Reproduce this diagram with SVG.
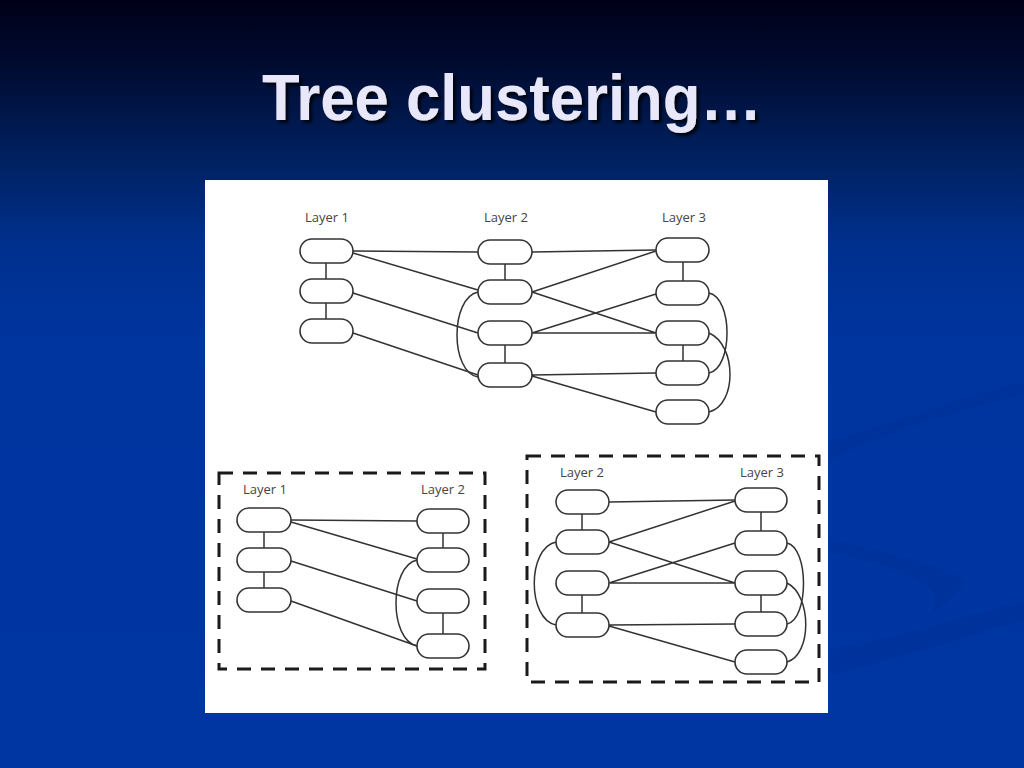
<svg xmlns="http://www.w3.org/2000/svg" width="1024" height="768" viewBox="0 0 1024 768">
<defs>
<linearGradient id="bg" x1="0" y1="0" x2="0" y2="1">
<stop offset="0" stop-color="#000018"/>
<stop offset="0.08" stop-color="#000a2e"/>
<stop offset="0.2" stop-color="#00205e"/>
<stop offset="0.32" stop-color="#00308e"/>
<stop offset="0.45" stop-color="#0035a0"/>
<stop offset="1" stop-color="#0036a2"/>
</linearGradient>
<filter id="sh" x="-5%" y="-20%" width="110%" height="140%">
<feDropShadow dx="3" dy="3" stdDeviation="1.5" flood-color="#000000" flood-opacity="0.8"/>
</filter>
<style>
.n{fill:#ffffff;stroke:#333333;stroke-width:1.6}
.e{fill:none;stroke:#333333;stroke-width:1.5}
.lbl{font-family:"Open Sans","DejaVu Sans",sans-serif;font-size:13px;fill:#444444;text-anchor:middle}
.box{fill:none;stroke:#1a1a1a;stroke-width:3;stroke-dasharray:14 10}
</style>
</defs>
<rect width="1024" height="768" fill="url(#bg)"/>
<path d="M830 440 C900 420 970 395 1024 380 L1024 395 C960 410 890 430 830 460 Z" fill="#00309a" opacity="0.6"/>
<path d="M830 540 C890 550 950 570 965 580 C955 600 930 615 930 615 C945 595 930 580 880 565 C860 560 840 555 830 552 Z" fill="#00309a" opacity="0.6"/>
<path d="M830 650 C900 635 970 615 1024 600 L1024 620 C960 640 890 660 830 675 Z" fill="#00309a" opacity="0.6"/>
<text x="512" y="120" font-family="'Liberation Sans',Arial,sans-serif" font-weight="bold" font-size="65" textLength="500" lengthAdjust="spacingAndGlyphs" fill="#e8e8fa" text-anchor="middle" filter="url(#sh)">Tree clustering…</text>
<rect x="205" y="180" width="623" height="533" fill="#ffffff"/>

<g id="connectors">
<!-- top graph -->
<path class="e" d="M326 263V279M326 303V319M505 264V280M505 345V363M683 262V281M683 345V361"/>
<path class="e" d="M353 251L478 252M353 253L478 290M353 293L478 333M353 333L478 375"/>
<path class="e" d="M532 252L656 250M532 292L656 251M532 292L656 333M532 333L656 294M532 333L656 333M532 375L656 373M532 376L656 412"/>
<path class="e" d="M478 292C450 298 450 372 478 377"/>
<path class="e" d="M709 293C733 298 733 368 709 373"/>
<path class="e" d="M709 333C737 345 737 405 709 412"/>
<!-- bottom left -->
<path class="e" d="M264 532V548M264 572V588M443 533V548M443 613V634"/>
<path class="e" d="M291 520L417 521M291 522L417 559M291 561L417 601M291 601L417 646"/>
<path class="e" d="M417 560C389 566 389 640 417 646"/>
<!-- bottom right -->
<path class="e" d="M582 514V530M582 595V613M761 512V531M761 595V612"/>
<path class="e" d="M609 502L735 500M609 542L735 501M609 542L735 583M609 583L735 543M609 583L735 583M609 625L735 624M609 626L735 662"/>
<path class="e" d="M556 542C527 548 527 619 556 625"/>
<path class="e" d="M787 543C809 548 809 619 787 624"/>
<path class="e" d="M787 583C812 595 812 655 787 662"/>
</g>

<g id="top-graph">
<text class="lbl" x="327" y="222">Layer 1</text>
<text class="lbl" x="506" y="222">Layer 2</text>
<text class="lbl" x="684" y="222">Layer 3</text>
<g id="t-l1-1"><rect class="n" x="300" y="239" width="53" height="24" rx="12"/></g>
<g id="t-l1-2"><rect class="n" x="300" y="279" width="53" height="24" rx="12"/></g>
<g id="t-l1-3"><rect class="n" x="300" y="319" width="53" height="24" rx="12"/></g>
<g id="t-l2-1"><rect class="n" x="478" y="240" width="54" height="24" rx="12"/></g>
<g id="t-l2-2"><rect class="n" x="478" y="280" width="54" height="24" rx="12"/></g>
<g id="t-l2-3"><rect class="n" x="478" y="321" width="54" height="24" rx="12"/></g>
<g id="t-l2-4"><rect class="n" x="478" y="363" width="54" height="24" rx="12"/></g>
<g id="t-l3-1"><rect class="n" x="656" y="238" width="53" height="24" rx="12"/></g>
<g id="t-l3-2"><rect class="n" x="656" y="281" width="53" height="24" rx="12"/></g>
<g id="t-l3-3"><rect class="n" x="656" y="321" width="53" height="24" rx="12"/></g>
<g id="t-l3-4"><rect class="n" x="656" y="361" width="53" height="24" rx="12"/></g>
<g id="t-l3-5"><rect class="n" x="656" y="400" width="53" height="24" rx="12"/></g>
</g>

<g id="cluster-left">
<rect class="box" x="219" y="473" width="266" height="196"/>
<text class="lbl" x="265" y="494">Layer 1</text>
<text class="lbl" x="443" y="494">Layer 2</text>
<g id="b-l1-1"><rect class="n" x="237" y="508" width="54" height="24" rx="12"/></g>
<g id="b-l1-2"><rect class="n" x="237" y="548" width="54" height="24" rx="12"/></g>
<g id="b-l1-3"><rect class="n" x="237" y="588" width="54" height="24" rx="12"/></g>
<g id="b-l2-1"><rect class="n" x="417" y="509" width="52" height="24" rx="12"/></g>
<g id="b-l2-2"><rect class="n" x="417" y="548" width="52" height="24" rx="12"/></g>
<g id="b-l2-3"><rect class="n" x="417" y="589" width="52" height="24" rx="12"/></g>
<g id="b-l2-4"><rect class="n" x="417" y="634" width="52" height="24" rx="12"/></g>
</g>

<g id="cluster-right">
<rect class="box" x="527" y="456" width="292" height="226"/>
<text class="lbl" x="582" y="477">Layer 2</text>
<text class="lbl" x="762" y="477">Layer 3</text>
<g id="r-l2-1"><rect class="n" x="556" y="490" width="53" height="24" rx="12"/></g>
<g id="r-l2-2"><rect class="n" x="556" y="530" width="53" height="24" rx="12"/></g>
<g id="r-l2-3"><rect class="n" x="556" y="571" width="53" height="24" rx="12"/></g>
<g id="r-l2-4"><rect class="n" x="556" y="613" width="53" height="24" rx="12"/></g>
<g id="r-l3-1"><rect class="n" x="735" y="488" width="52" height="24" rx="12"/></g>
<g id="r-l3-2"><rect class="n" x="735" y="531" width="52" height="24" rx="12"/></g>
<g id="r-l3-3"><rect class="n" x="735" y="571" width="52" height="24" rx="12"/></g>
<g id="r-l3-4"><rect class="n" x="735" y="612" width="52" height="24" rx="12"/></g>
<g id="r-l3-5"><rect class="n" x="735" y="650" width="52" height="24" rx="12"/></g>
</g>
</svg>
